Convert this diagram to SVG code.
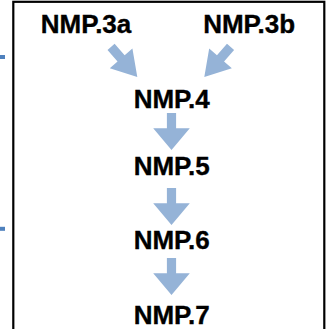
<svg xmlns="http://www.w3.org/2000/svg" width="331" height="329" viewBox="0 0 331 329">
  <style>
    .lbl { font-family: "Liberation Sans", Arial, sans-serif; font-weight: bold; font-size: 26px; fill: #000; stroke: #000; stroke-width: 0.35; text-anchor: middle; }
    .arrow { fill: #95B3D7; }
    .frame { fill: #fff; stroke: #000; stroke-width: 2.2; }
    .tick { fill: #4F81BD; }
  </style>
  <defs>
    <!-- block arrow pointing down, tip at the origin -->
    <polygon id="downArrow" points="-4.6,-37 4.6,-37 4.6,-21.7 18.3,-21.7 0,0 -18.3,-21.7 -4.6,-21.7"/>
    <!-- narrower block arrow used for the merging pair -->
    <polygon id="slantArrow" points="-4.7,-40 4.7,-40 4.7,-24.7 15,-24.7 0,0 -15,-24.7 -4.7,-24.7"/>
  </defs>

  <rect width="331" height="329" fill="#fff"/>

  <!-- side ticks -->
  <rect class="tick" x="0" y="55" width="5" height="4"/>
  <rect class="tick" x="0" y="226.8" width="5" height="4"/>

  <!-- outer frame, open at the bottom edge -->
  <rect class="frame" x="13.3" y="1.8" width="311" height="340"/>

  <g id="connectors">
    <use href="#slantArrow" class="arrow" transform="translate(137.3,77) rotate(-41)"/>
    <use href="#slantArrow" class="arrow" transform="translate(204.3,77) rotate(41)"/>
    <use href="#downArrow" class="arrow" transform="translate(171.5,150)"/>
    <use href="#downArrow" class="arrow" transform="translate(171.5,225)"/>
    <use href="#downArrow" class="arrow" transform="translate(171.5,295)"/>
  </g>

  <g id="nmp3a"><text class="lbl" x="86" y="33.3">NMP.3a</text></g>
  <g id="nmp3b"><text class="lbl" x="249.2" y="33.3">NMP.3b</text></g>
  <g id="nmp4"><text class="lbl" x="171.7" y="108.3">NMP.4</text></g>
  <g id="nmp5"><text class="lbl" x="171.7" y="175">NMP.5</text></g>
  <g id="nmp6"><text class="lbl" x="171.7" y="249.3">NMP.6</text></g>
  <g id="nmp7"><text class="lbl" x="171.7" y="323.5">NMP.7</text></g>
</svg>
